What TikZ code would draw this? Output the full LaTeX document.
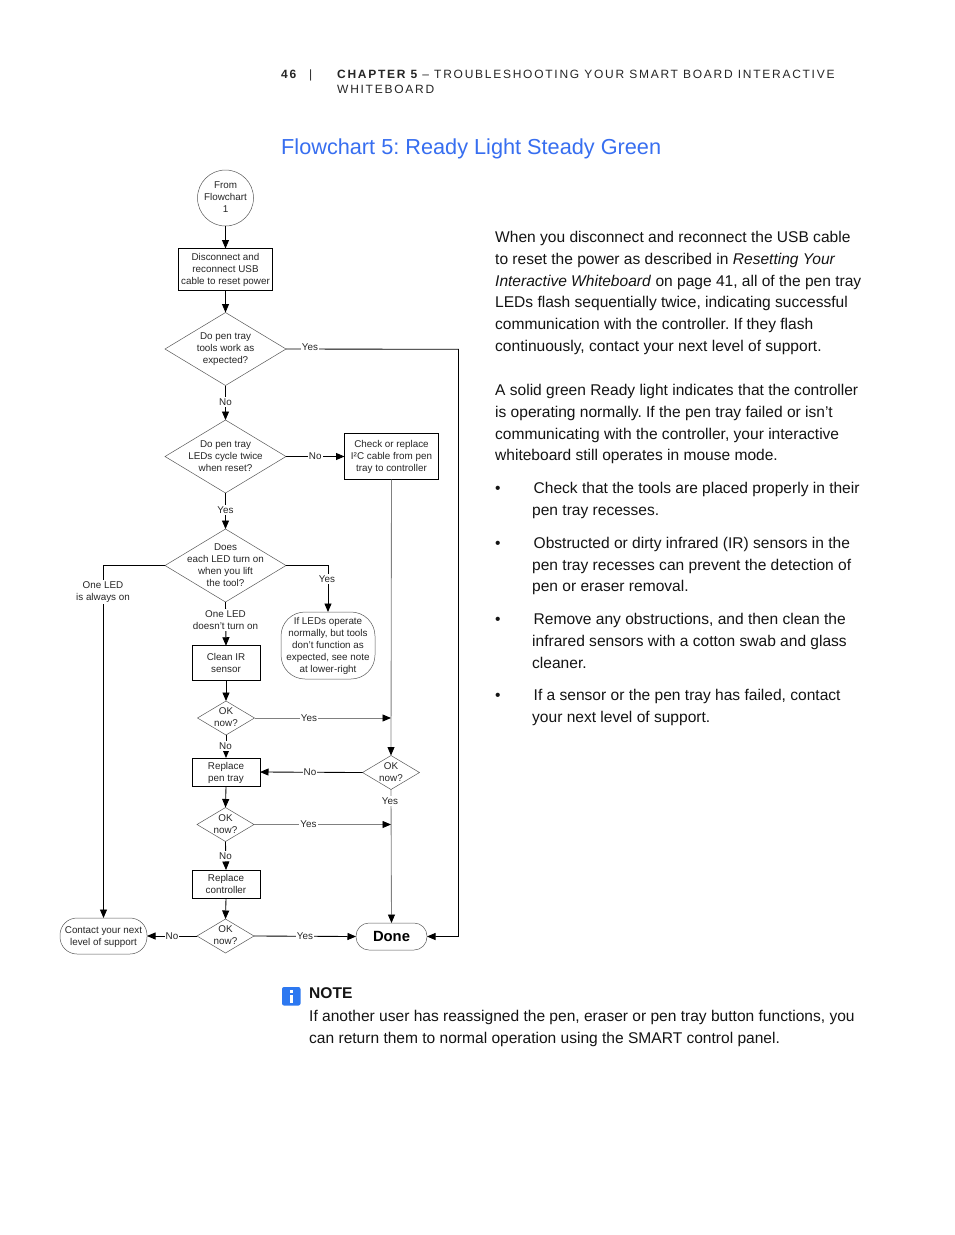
\documentclass[tikz,border=0pt]{standalone}
\usepackage{fontspec}
\setmainfont{Liberation Sans}
\newfontface\hdrfont[LetterSpace=14.5]{Liberation Sans}
\newfontface\hdrbold[LetterSpace=14.5]{Liberation Sans Bold}
\usetikzlibrary{shapes.geometric,arrows.meta}
\AtBeginDocument{\frenchspacing}
\definecolor{titleblue}{RGB}{55,110,240}
\definecolor{iconblue}{RGB}{45,120,240}
\definecolor{bodyc}{RGB}{20,20,20}
\newcommand\flowfont{\fontsize{9.85}{12}\selectfont}
\newcommand\bodyfont{\fontsize{15.55}{21.8}\selectfont}
\newcommand\stacked[1]{\smash{\makebox[0pt]{\raisebox{-2.6pt}{\begin{tabular}{@{}c@{}}#1\end{tabular}}}}}
\tikzset{
  x=1pt,y=-1pt,
  shp/.style={font=\flowfont,align=center,inner sep=0pt,outer sep=0pt,text=black!85},
  boxn/.style={shp,draw=black,line width=.9pt,rectangle},
  dia/.style={shp,draw=black!65,line width=.5pt,diamond,aspect=1.66},
  bigdia/.style={dia,minimum width=121,minimum height=73},
  okdia/.style={dia,minimum width=57,minimum height=34},
  term/.style={shp,draw=black!65,line width=.5pt,rectangle},
  lab/.style={font=\flowfont,align=center,fill=white,inner xsep=1pt,inner ysep=1.5pt,text=black!85},
  conn/.style={draw=black,line width=.85pt,-{Triangle[length=8.5pt,width=7pt,color=black]}},
  conng/.style={draw=black!50,line width=.85pt,-{Triangle[length=8.5pt,width=7pt,color=black]}},
  bodyt/.style={font=\bodyfont,anchor=base west,align=left,inner sep=0pt,text=bodyc},
  hdr/.style={anchor=base west,inner sep=0pt,align=left,text=black!85},
}
\begin{document}
\begin{tikzpicture}
\useasboundingbox (0,0) rectangle (954,1235);
\fill[white] (0,0) rectangle (954,1235);

% header and title
\node[hdr,font=\fontsize{12}{12}\hdrbold] (pnum) at (281,78) {46};
\node[hdr,font=\fontsize{12}{12}\hdrfont] (pbar) at (309,78) {|};
\node[hdr,font=\fontsize{12}{15}\hdrfont] (chap) at (337,93) {{\hdrbold CHAPTER 5} – TROUBLESHOOTING YOUR SMART BOARD INTERACTIVE\\WHITEBOARD};
\node[anchor=base west,inner sep=0pt,font=\fontsize{21.7}{24}\selectfont,text=titleblue] (title) at (281,154.5) {Flowchart 5: Ready Light Steady Green};

% shapes
\node[shp,draw=black!65,line width=.5pt,circle,minimum size=56] (from) at (225.5,198) {\raisebox{-.8pt}{\stacked{From\\Flowchart\\1}}};
\node[boxn,minimum width=94,minimum height=42,text depth=1pt] (disc) at (225.5,269.5) {Disconnect and\\reconnect USB\\cable to reset power};
\node[bigdia] (d1) at (225.5,349) {\stacked{Do pen tray\\tools work as\\expected?}};
\node[bigdia] (d2) at (225.5,456.5) {\stacked{Do pen tray\\LEDs cycle twice\\when reset?}};
\node[boxn,minimum width=94,minimum height=46] (check) at (391.5,456.5) {Check or replace\\I²C cable from pen\\tray to controller};
\node[bigdia] (d3) at (225.5,565.5) {\stacked{Does\\each LED turn on\\when you lift\\the tool?}};
\node[term,rounded corners=24,minimum width=94,minimum height=67] (noteb) at (328,645.5) {If LEDs operate\\normally, but tools\\don’t function as\\expected, see note\\at lower-right};
\node[boxn,minimum width=68,minimum height=34.5] (clean) at (226,663) {Clean IR\\sensor};
\node[okdia] (ok1) at (226,718) {\stacked{OK\\now?}};
\node[okdia] (okr) at (391,772.5) {\stacked{OK\\now?}};
\node[boxn,minimum width=68,minimum height=28,text depth=-1pt] (pen) at (226,772) {Replace\\pen tray};
\node[okdia] (ok2) at (225.5,824.5) {\stacked{OK\\now?}};
\node[boxn,minimum width=68,minimum height=28] (ctrl) at (226,884) {Replace\\controller};
\node[okdia] (ok3) at (225.5,936) {\stacked{OK\\now?}};
\node[term,rounded corners=17,minimum width=87,minimum height=36,text depth=-1pt] (contact) at (103.5,936) {Contact your next\\level of support};
\node[term,rounded corners=13,minimum width=71,minimum height=27,font=\fontsize{14.8}{16}\selectfont\bfseries,text=black] (done) at (391.5,936.5) {\raisebox{.8pt}{Done}};

% junctions
\coordinate (yesr) at (458.5,349.3);
\coordinate (j1) at (391,718);
\coordinate (j2) at (391,824.5);

% connectors
\draw[conn] (from.south) -- (disc.north);
\draw[conn] (disc.south) -- (d1.north);
\draw[conn] (d1.south) -- node[lab,pos=.47] (lno1) {No} (d2.north);
\draw[conn] (d1.east) -- (yesr) |- (done.east);
\node[lab] (lyes1) at (310,347) {Yes};
\draw[conn] (d2.east) -- node[lab,pos=.5] (lno2) {No} (check.west);
\draw[conn] (d2.south) -- node[lab,pos=.47] (lyes2) {Yes} (d3.north);
\draw[conn] (d3.west) -| (contact.north);
\node[lab] (lone) at (103,591.7) {One LED\\is always on};
\draw[conn] (d3.east) -| (noteb.north);
\node[lab] (lyes3) at (327,579) {Yes};
\draw[conn] (d3.south) -- (clean.north);
\node[lab] (ldoesnt) at (225.5,620.4) {One LED\\doesn’t turn on};
\draw[conn] (clean.south) -- (ok1.north);
\draw[conng] (check.south) -- (okr.north);
\draw[conng] (ok1.east) -- (j1);
\node[lab] (lyes4) at (309,718) {Yes};
\draw[conn] (ok1.south) -- (pen.north);
\node[lab] (lno3) at (225.5,746) {No};
\draw[conn] (okr.west) -- (pen.east);
\node[lab] (lno4) at (310,772) {No};
\draw[conng] (okr.south) -- (done.north);
\node[lab] (lyes5) at (390,800.8) {Yes};
\draw[conn] (pen.south) -- (ok2.north);
\draw[conng] (ok2.east) -- (j2);
\node[lab] (lyes6) at (308.5,824) {Yes};
\draw[conn] (ok2.south) -- (ctrl.north);
\node[lab] (lno5) at (225.5,856) {No};
\draw[conn] (ctrl.south) -- (ok3.north);
\draw[conn] (ok3.west) -- (contact.east);
\node[lab] (lno6) at (172,936) {No};
\draw[conn] (ok3.east) -- (done.west);
\node[lab] (lyes7) at (305,936) {Yes};

% body text (a node's base is its last line)
\node[bodyt] (p1) at (495,351.5) {When you disconnect and reconnect the USB cable\\to reset the power as described in \textit{Resetting Your}\\\textit{Interactive Whiteboard} on page 41, all of the pen tray\\LEDs flash sequentially twice, indicating successful\\communication with the controller. If they flash\\continuously, contact your next level of support.};
\node[bodyt] (p2) at (495,460.8) {A solid green Ready light indicates that the controller\\is operating normally. If the pen tray failed or isn’t\\communicating with the controller, your interactive\\whiteboard still operates in mouse mode.};
\node[bodyt] (b1) at (495,493) {•};
\node[bodyt] (t1) at (532,515.3) {\hspace*{1.5pt}Check that the tools are placed properly in their\\pen tray recesses.};
\node[bodyt] (b2) at (495,548) {•};
\node[bodyt] (t2) at (532,591.8) {\hspace*{1.5pt}Obstructed or dirty infrared (IR) sensors in the\\pen tray recesses can prevent the detection of\\pen or eraser removal.};
\node[bodyt] (b3) at (495,624) {•};
\node[bodyt] (t3) at (532,668.2) {\hspace*{1.5pt}Remove any obstructions, and then clean the\\infrared sensors with a cotton swab and glass\\cleaner.};
\node[bodyt] (b4) at (495,700) {•};
\node[bodyt] (t4) at (532,722.4) {\hspace*{1.5pt}If a sensor or the pen tray has failed, contact\\your next level of support.};

% note
\fill[iconblue,rounded corners=2] (282,987) rectangle (300.5,1005.5);
\fill[white] (290,990) rectangle (293,992.5);
\fill[white] (290,994.5) rectangle (293,1002.5);
\node[bodyt,font=\bfseries\bodyfont] (noteh) at (309,998) {NOTE};
\node[bodyt] (notet) at (309,1043.5) {If another user has reassigned the pen, eraser or pen tray button functions, you\\can return them to normal operation using the SMART control panel.};
\end{tikzpicture}
\end{document}
